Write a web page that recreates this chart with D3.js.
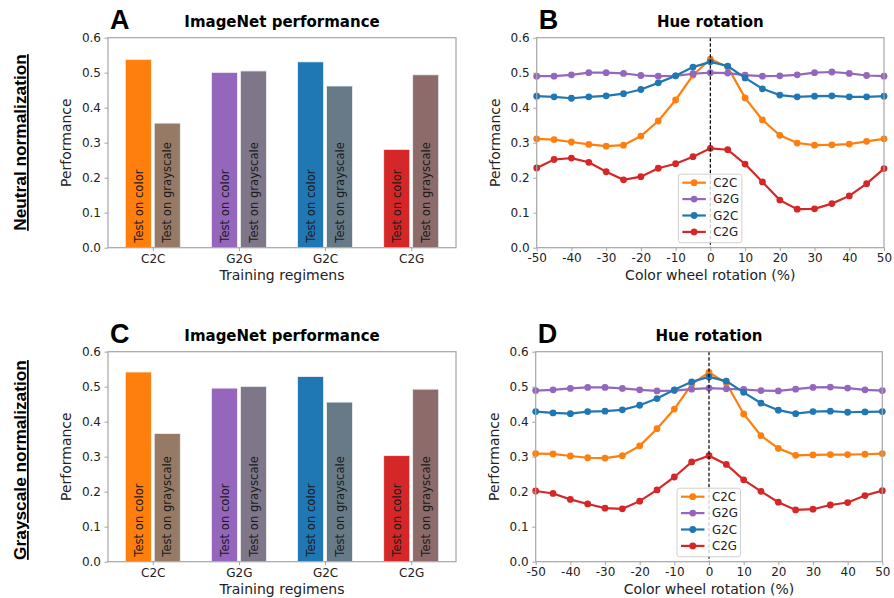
<!DOCTYPE html>
<html>
<head>
<meta charset="utf-8">
<script src="https://cdn.jsdelivr.net/npm/d3@7"></script>
<style>
  body { margin: 0; background: #fff; }
  svg { font-family: "DejaVu Sans", sans-serif; }
</style>
</head>
<body>
<svg id="chart" width="894" height="598"></svg>
<script>
// training regimens and bar values
const regimens = ["C2C", "G2G", "G2C", "C2G"];
const neutralColor = [0.538, 0.501, 0.531, 0.281];
const neutralGray  = [0.356, 0.505, 0.462, 0.494];
const grayNormColor = [0.542, 0.496, 0.529, 0.303];
const grayNormGray  = [0.366, 0.501, 0.456, 0.493];

// hue rotation (%)
const rotation = [-50, -45, -40, -35, -30, -25, -20, -15, -10, -5, 0, 5, 10, 15, 20, 25, 30, 35, 40, 45, 50];

const neutralC2C = [0.311, 0.309, 0.302, 0.295, 0.290, 0.293, 0.319, 0.362, 0.422, 0.493, 0.539, 0.516, 0.428, 0.365, 0.321, 0.299, 0.293, 0.294, 0.296, 0.304, 0.311];
const neutralG2G = [0.490, 0.490, 0.494, 0.500, 0.500, 0.498, 0.492, 0.490, 0.491, 0.497, 0.500, 0.499, 0.493, 0.490, 0.491, 0.494, 0.500, 0.502, 0.498, 0.492, 0.490];
const neutralG2C = [0.433, 0.431, 0.427, 0.431, 0.434, 0.440, 0.452, 0.471, 0.491, 0.516, 0.531, 0.519, 0.485, 0.454, 0.436, 0.431, 0.433, 0.434, 0.431, 0.431, 0.433];
const neutralC2G = [0.228, 0.252, 0.256, 0.244, 0.217, 0.194, 0.203, 0.227, 0.240, 0.260, 0.284, 0.280, 0.239, 0.188, 0.136, 0.110, 0.111, 0.126, 0.148, 0.183, 0.226];

const grayC2C = [0.309, 0.308, 0.302, 0.297, 0.296, 0.303, 0.331, 0.380, 0.436, 0.507, 0.541, 0.510, 0.422, 0.360, 0.324, 0.304, 0.305, 0.306, 0.306, 0.307, 0.309];
const grayG2G = [0.489, 0.491, 0.495, 0.498, 0.498, 0.495, 0.491, 0.488, 0.489, 0.493, 0.496, 0.494, 0.492, 0.489, 0.488, 0.493, 0.498, 0.499, 0.496, 0.491, 0.489];
const grayG2C = [0.429, 0.425, 0.423, 0.429, 0.430, 0.434, 0.447, 0.466, 0.491, 0.514, 0.528, 0.516, 0.484, 0.453, 0.433, 0.423, 0.429, 0.430, 0.427, 0.428, 0.429];
const grayC2G = [0.202, 0.195, 0.178, 0.165, 0.153, 0.151, 0.173, 0.205, 0.242, 0.285, 0.303, 0.278, 0.234, 0.201, 0.170, 0.148, 0.150, 0.162, 0.169, 0.189, 0.203];

const yTicks = [0, 0.1, 0.2, 0.3, 0.4, 0.5, 0.6];
const xTicks = [-50, -40, -30, -20, -10, 0, 10, 20, 30, 40, 50];

const colorOf = { C2C: "#ff7f0e", G2G: "#9467bd", G2C: "#1f77b4", C2G: "#d62728" };
const grayOf = { C2C: "#967a66", G2G: "#7f7789", G2C: "#677a88", C2G: "#8d6b6b" };
const spine = "#a6a6a6";
const ink = "#222";

const svg = d3.select("#chart");
svg.append("rect").attr("width", 894).attr("height", 598).attr("fill", "#fff");

function frame(g, box, y) {
    g.append("g")
        .attr("transform", `translate(${box.x0},0)`)
        .call(d3.axisLeft(y).tickValues(yTicks).tickFormat(d3.format(".1f")).tickSize(3.5).tickPadding(3.5))
        .call(a => a.select(".domain").remove())
        .call(a => a.selectAll("line").attr("stroke", spine))
        .call(a => a.selectAll("text").attr("font-size", 12).attr("fill", ink).attr("font-family", "DejaVu Sans"));
    g.append("rect")
        .attr("x", box.x0).attr("y", box.y0)
        .attr("width", box.x1 - box.x0).attr("height", box.y1 - box.y0)
        .attr("fill", "none").attr("stroke", spine).attr("stroke-width", 1.2);
    g.append("text")
        .attr("transform", `translate(${box.x0 - 42},${(box.y0 + box.y1) / 2}) rotate(-90)`)
        .attr("text-anchor", "middle").attr("dy", "0.35em")
        .attr("font-size", 14).attr("fill", ink)
        .text("Performance");
}

function header(g, box, letter, title) {
    g.append("text")
        .attr("x", box.x0 + 2).attr("y", box.y0 - 8.5)
        .attr("font-family", "Liberation Sans, Arial, sans-serif")
        .attr("font-weight", "bold").attr("font-size", 27).attr("fill", "#000")
        .text(letter);
    g.append("text")
        .attr("x", (box.x0 + box.x1) / 2).attr("y", box.y0 - 10.5)
        .attr("text-anchor", "middle")
        .attr("font-weight", "bold").attr("font-size", 15).attr("fill", "#000")
        .text(title);
}

function barPanel(box, letter, colorVals, grayVals) {
    const g = svg.append("g");
    const y = d3.scaleLinear().domain([0, 0.6]).range([box.y1, box.y0]);
    const x = d3.scalePoint().domain(regimens).range([box.x0, box.x1]).padding(0.52);
    const x1 = d3.scaleBand().domain(["color", "gray"]).range([-27.5, 27.5]).paddingInner(0.1);

    const rows = regimens.map((r, i) => [
        { r, kind: "color", v: colorVals[i], fill: colorOf[r], label: "Test on color" },
        { r, kind: "gray", v: grayVals[i], fill: grayOf[r], label: "Test on grayscale" }
    ]).flat();

    g.append("g").selectAll("rect")
        .data(rows)
        .join("rect")
        .attr("x", d => x(d.r) + x1(d.kind))
        .attr("y", d => y(d.v))
        .attr("width", x1.bandwidth())
        .attr("height", d => y(0) - y(d.v))
        .attr("fill", d => d.fill)
        .attr("stroke", "#f2f2f2").attr("stroke-width", 0.8);

    g.append("g").selectAll("text")
        .data(rows)
        .join("text")
        .attr("transform", d => `translate(${x(d.r) + x1(d.kind) + x1.bandwidth() / 2 + 4.2},${y(0) - 5}) rotate(-90)`)
        .attr("font-size", 11.6).attr("fill", "#1a1a1a")
        .text(d => d.label);

    g.append("g")
        .attr("transform", `translate(0,${box.y1})`)
        .call(d3.axisBottom(x).tickSize(3.5).tickPadding(3))
        .call(a => a.select(".domain").remove())
        .call(a => a.selectAll("line").attr("stroke", spine))
        .call(a => a.selectAll("text").attr("font-size", 12).attr("fill", ink).attr("font-family", "DejaVu Sans"));

    frame(g, box, y);
    header(g, box, letter, "ImageNet performance");

    g.append("text")
        .attr("x", (box.x0 + box.x1) / 2).attr("y", box.y1 + 32.5)
        .attr("text-anchor", "middle").attr("font-size", 14).attr("fill", ink)
        .text("Training regimens");
}

function linePanel(box, letter, series) {
    const g = svg.append("g");
    const y = d3.scaleLinear().domain([0, 0.6]).range([box.y1, box.y0]);
    const x = d3.scaleLinear().domain([-50, 50]).range([box.x0, box.x1]);
    const line = d3.line().x((d, i) => x(rotation[i])).y(d => y(d));

    series.forEach(s => {
        const sg = g.append("g");
        sg.append("path")
            .attr("d", line(s.values))
            .attr("fill", "none").attr("stroke", colorOf[s.name]).attr("stroke-width", 2.2);
        sg.selectAll("circle")
            .data(s.values)
            .join("circle")
            .attr("cx", (d, i) => x(rotation[i]))
            .attr("cy", d => y(d))
            .attr("r", 3.4)
            .attr("fill", colorOf[s.name]);
    });

    g.append("line")
        .attr("x1", x(0)).attr("x2", x(0))
        .attr("y1", box.y0).attr("y2", box.y1)
        .attr("stroke", "#000").attr("stroke-width", 1.2).attr("stroke-dasharray", "3.5,2");

    g.append("g")
        .attr("transform", `translate(0,${box.y1})`)
        .call(d3.axisBottom(x).tickValues(xTicks).tickFormat(d3.format("d")).tickSize(3.5).tickPadding(2))
        .call(a => a.select(".domain").remove())
        .call(a => a.selectAll("line").attr("stroke", spine))
        .call(a => a.selectAll("text").attr("font-size", 12).attr("fill", ink).attr("font-family", "DejaVu Sans")
            .text(d => d < 0 ? "-" + Math.abs(d) : d));

    frame(g, box, y);
    header(g, box, letter, "Hue rotation");

    g.append("text")
        .attr("x", (box.x0 + box.x1) / 2).attr("y", box.y1 + 32)
        .attr("text-anchor", "middle").attr("font-size", 14).attr("fill", ink)
        .text("Color wheel rotation (%)");

    // legend
    const lx = x(0) - 32, ly = box.y1 - 73.5;
    const lg = g.append("g").attr("transform", `translate(${lx},${ly})`);
    lg.append("rect")
        .attr("width", 63.5).attr("height", 68.5).attr("rx", 2.5)
        .attr("fill", "#fff").attr("fill-opacity", 0.8)
        .attr("stroke", "#d0d0d0").attr("stroke-width", 1);
    series.forEach((s, i) => {
        const row = lg.append("g").attr("transform", `translate(0,${8.5 + i * 16.4})`);
        row.append("line").attr("x1", 4).attr("x2", 27.5)
            .attr("stroke", colorOf[s.name]).attr("stroke-width", 2.2);
        row.append("circle").attr("cx", 15.75).attr("r", 3.4).attr("fill", colorOf[s.name]);
        row.append("text").attr("x", 35).attr("dy", "0.36em")
            .attr("font-size", 11.8).attr("fill", ink).text(s.name);
    });
}

function rowLabel(cy, text) {
    svg.append("text")
        .attr("transform", `translate(26,${cy}) rotate(-90)`)
        .attr("text-anchor", "middle")
        .attr("font-family", "Liberation Sans, Arial, sans-serif")
        .attr("font-weight", "bold").attr("font-size", 17.3).attr("fill", "#000")
        .attr("text-decoration", "underline")
        .text(text);
}

barPanel({ x0: 108, x1: 456, y0: 37.7, y1: 247.7 }, "A", neutralColor, neutralGray);
linePanel({ x0: 536.7, x1: 884, y0: 37.7, y1: 247.7 }, "B", [
    { name: "C2C", values: neutralC2C },
    { name: "G2G", values: neutralG2G },
    { name: "G2C", values: neutralG2C },
    { name: "C2G", values: neutralC2G }
]);
barPanel({ x0: 108, x1: 456, y0: 351.7, y1: 561.7 }, "C", grayNormColor, grayNormGray);
linePanel({ x0: 535.7, x1: 882.3, y0: 351.7, y1: 561.7 }, "D", [
    { name: "C2C", values: grayC2C },
    { name: "G2G", values: grayG2G },
    { name: "G2C", values: grayG2C },
    { name: "C2G", values: grayC2G }
]);

rowLabel(142.5, "Neutral normalization");
rowLabel(460, "Grayscale normalization");
</script>
</body>
</html>
